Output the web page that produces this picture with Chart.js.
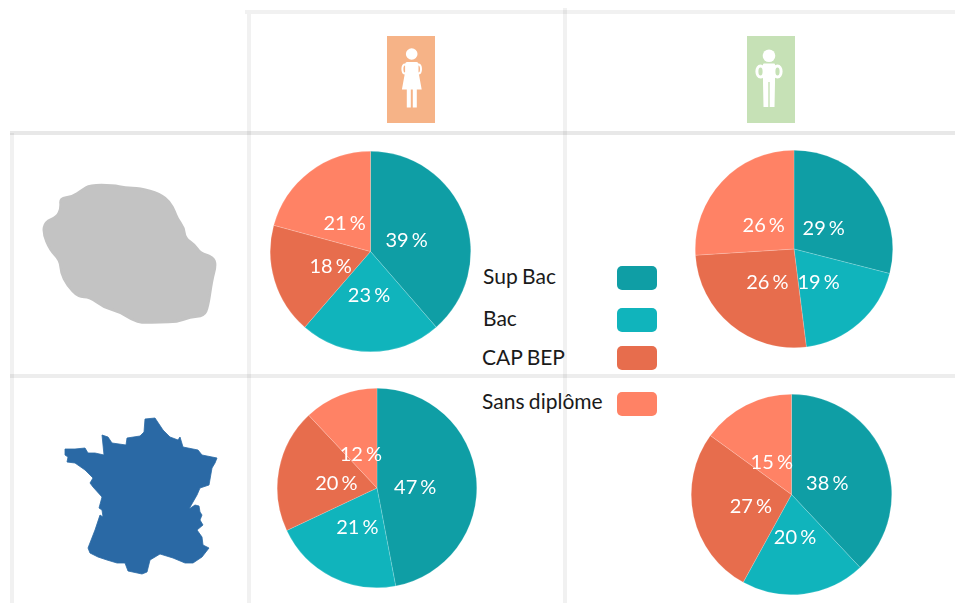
<!DOCTYPE html>
<html>
<head>
<meta charset="utf-8">
<title>Niveau de diplôme</title>
<script src="https://cdn.jsdelivr.net/npm/chart.js@4/dist/chart.umd.min.js"></script>
<style>
html, body { margin: 0; padding: 0; background: #fff; }
body { width: 955px; height: 603px; position: relative; overflow: hidden; font-family: Lato, sans-serif; }
.line { position: absolute; background: rgba(0,0,0,0.055); }
.pie { position: absolute; }
.box { position: absolute; top: 36px; width: 48px; height: 87px; }
.name { position: absolute; font-size: 21px; line-height: 24px; color: #1a1a1a; word-spacing: -1px; }
.swatch { position: absolute; left: 617px; width: 40px; height: 24px; border-radius: 5px; }
svg { position: absolute; left: 0; top: 0; }
</style>
</head>
<body>
<div class="line" style="left:245px;top:10px;width:710px;height:4px"></div>
<div class="line" style="left:10px;top:131px;width:945px;height:4px;background:rgba(0,0,0,0.09)"></div>
<div class="line" style="left:10px;top:374px;width:945px;height:4px;background:rgba(0,0,0,0.07)"></div>
<div class="line" style="left:10px;top:133px;width:4px;height:470px"></div>
<div class="line" style="left:247px;top:14px;width:4px;height:589px"></div>
<div class="line" style="left:563px;top:8px;width:4px;height:595px"></div>

<div class="box" style="left:387px;background:#f6b387"></div>
<div class="box" style="left:747px;background:#c6e1b6"></div>

<svg width="955" height="603" viewBox="0 0 955 603">
  <!-- la Reunion, smoothed in the script below -->
  <path id="reunion" fill="#c3c3c3" stroke="#c3c3c3" stroke-width="2.5" stroke-linejoin="round"
    data-points="90,185 113,185 125,188 140,188 160,194 170,202 175,212 177,218 184,228 185,238 195,245 200,253 213,257 216,265 212,280 208,307 204,316 190,317 177,322 160,322 143,323 132,320 120,312 103,307 90,297 78,297 67,285 61,273 60,260 50,250 43,233 45,222 57,217 61,208 60,198 72,197 82,190"/>
  <!-- France -->
  <polygon fill="#2a69a5" stroke="#2a69a5" stroke-width="0.8" stroke-linejoin="round"
    points="65,449 75,449 85,448 88,453 95,453 104,455 102,435 108,437 112,443 126,445 127,438 140,436 144,432 145,419 155,418 163,430 170,437 178,440 180,437 183,447 198,450 202,455 217,458 215,463 212,468 209,485 200,488 197,495 189,509 195,505 199,506 200,512 202,515 200,520 203,525 197,530 202,537 203,545 209,548 202,557 193,563 185,563 173,558 160,554 150,560 147,572 142,574 128,571 125,563 117,563 107,560 98,557 90,553 88,548 95,530 100,515 103,517 102,510 99,508 102,497 93,487 90,483 93,478 85,470 75,463 67,462 68,457 65,455"/>
  <!-- femme -->
  <g fill="#fff">
    <circle cx="411.7" cy="54" r="5.8"/>
    <path d="M407 62 h9.5 q2 0 2 3 l0 7 l3.2 17.5 h-4.9 v18 h-4 v-18 h-2 v18 h-4 v-18 h-4.9 l3.2 -17.5 l0 -7 q0 -3 2 -3z"/>
  </g>
  <g fill="none" stroke="#fff">
    <ellipse cx="405" cy="69" rx="2.6" ry="4.6" stroke-width="2"/>
    <ellipse cx="418.4" cy="69" rx="2.6" ry="4.6" stroke-width="2"/>
  </g>
  <!-- homme -->
  <g fill="#fff">
    <circle cx="769" cy="55.7" r="6.3"/>
    <path d="M764 63.5 h10 q1 0 1 1 v18 l-0.5 24.5 h-4.8 v-25 h-1.4 v25 h-4.8 l-0.5 -24.5 v-18 q0 -1 1 -1z"/>
  </g>
  <g fill="none" stroke="#fff" stroke-width="3">
    <ellipse cx="760.5" cy="71.5" rx="3.6" ry="5.5"/>
    <ellipse cx="777.5" cy="71.5" rx="3.6" ry="5.5"/>
  </g>
</svg>

<div id="pies"></div>
<div id="legend"></div>

<script>
var categories = ["Sup Bac", "Bac", "CAP BEP", "Sans diplôme"];
var colors = ["#0f9ea5", "#10b4bc", "#e76d4d", "#ff8265"];

var reunionFemmes = [39, 23, 18, 21];
var reunionHommes = [29, 19, 26, 26];
var franceFemmes = [47, 21, 20, 12];
var franceHommes = [38, 20, 27, 15];

var legendTops = [264, 306, 345, 389];
var legendLefts = [483, 483, 482, 482];
var swatchTops = [266, 308, 346, 392];

// writes "39 %" inside each slice
var sliceLabels = {
  id: "sliceLabels",
  afterDatasetsDraw: function (chart) {
    var ctx = chart.ctx;
    var values = chart.data.datasets[0].data;
    ctx.save();
    ctx.fillStyle = "#fff";
    ctx.font = "20px Lato";
    ctx.wordSpacing = "-2px";
    ctx.textAlign = "center";
    ctx.textBaseline = "middle";
    chart.getDatasetMeta(0).data.forEach(function (arc, i) {
      var a = (arc.startAngle + arc.endAngle) / 2;
      var x = arc.x + Math.cos(a) * arc.outerRadius * 0.4 - 1.5;
      var y = arc.y + Math.sin(a) * arc.outerRadius * 0.4 + 3.5;
      ctx.fillText(values[i] + " %", x, y);
    });
    ctx.restore();
  }
};

function makePie(values, left, top, size) {
  var c = document.createElement("canvas");
  c.className = "pie";
  c.width = size;
  c.height = size;
  c.style.left = left + "px";
  c.style.top = top + "px";
  document.getElementById("pies").appendChild(c);
  return new Chart(c.getContext("2d"), {
    type: "pie",
    data: {
      labels: categories,
      datasets: [{ data: values, backgroundColor: colors, borderColor: "rgba(255,255,255,0.35)", borderWidth: 0.5 }]
    },
    options: {
      responsive: false,
      animation: false,
      plugins: { legend: { display: false }, tooltip: { enabled: false } }
    },
    plugins: [sliceLabels]
  });
}

// rounds the island's outline through the midpoints of its corners
function smoothOutline(el) {
  var p = el.getAttribute("data-points").split(" ").map(function (s) { return s.split(",").map(Number); });
  var n = p.length;
  var mid = function (a, b) { return ((a[0] + b[0]) / 2) + "," + ((a[1] + b[1]) / 2); };
  var d = "M" + mid(p[n - 1], p[0]);
  for (var i = 0; i < n; i++) {
    d += " Q" + p[i][0] + "," + p[i][1] + " " + mid(p[i], p[(i + 1) % n]);
  }
  el.setAttribute("d", d + "Z");
}

function drawAll() {
  smoothOutline(document.getElementById("reunion"));

  makePie(reunionFemmes, 270, 151, 201);
  makePie(reunionHommes, 695, 150, 198);
  makePie(franceFemmes, 277, 388, 200);
  makePie(franceHommes, 691, 394, 201);

  var legend = document.getElementById("legend");
  categories.forEach(function (name, i) {
    var t = document.createElement("div");
    t.className = "name";
    t.textContent = name;
    t.style.left = legendLefts[i] + "px";
    t.style.top = legendTops[i] + "px";
    legend.appendChild(t);
    var s = document.createElement("div");
    s.className = "swatch";
    s.style.top = swatchTops[i] + "px";
    s.style.background = colors[i];
    legend.appendChild(s);
  });
}

// Lato has to be ready before the canvas text is drawn
document.fonts.load("20px Lato").then(drawAll, drawAll);
</script>
</body>
</html>
